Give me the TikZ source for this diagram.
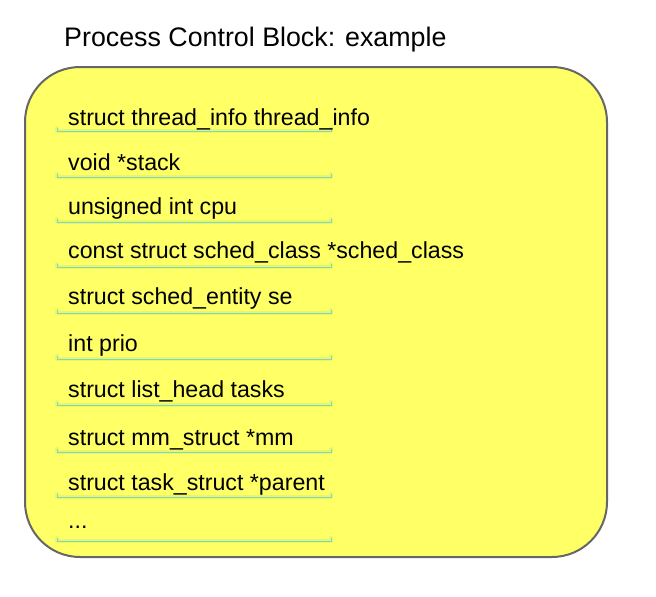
\documentclass[tikz,border=0pt]{standalone}
\usepackage{fontspec}
\setmainfont{Liberation Sans}
\definecolor{boxfill}{RGB}{255,255,102}
\definecolor{boxline}{RGB}{102,102,102}
\definecolor{brk}{RGB}{140,210,180}
\definecolor{glow}{RGB}{228,248,110}
\begin{document}
\begin{tikzpicture}[x=1pt,y=-1pt,
  field/.style={anchor=west,inner sep=0pt,font=\fontsize{23.2}{27}\selectfont},
  brkglow/.style={draw=glow,line width=4pt,line cap=round,line join=round},
  brkline/.style={draw=brk,line width=1pt}]
\useasboundingbox (0,0) rectangle (656,597);
\node[anchor=west,inner sep=0pt,font=\fontsize{26.8}{30}\selectfont] (title) at (64,40) {Process Control Block: example};
\draw[boxline,fill=boxfill,line width=2pt,rounded corners=55pt] (25,67) rectangle (607,557);
\foreach \t/\ty/\by [count=\i] in {
  {struct thread\_info thread\_info}/119/131,
  {void *stack}/162/177,
  {unsigned int cpu}/208/222,
  {const struct sched\_class *sched\_class}/252/267,
  {struct sched\_entity se}/298/313,
  {int prio}/345/359,
  {struct list\_head tasks}/391/405,
  {struct mm\_struct *mm}/440/452,
  {struct task\_struct *parent}/484/497,
  {...}/527/541}{
  \path[brkglow] (57,\by-3) -- (57,\by) -- (331,\by) -- (331,\by-3);
  \path[brkline] (57,\by-3) -- (57,\by) -- (331,\by) -- (331,\by-3);
  \node[field] (f\i) at (68,\ty) {\t};
}
\end{tikzpicture}
\end{document}
